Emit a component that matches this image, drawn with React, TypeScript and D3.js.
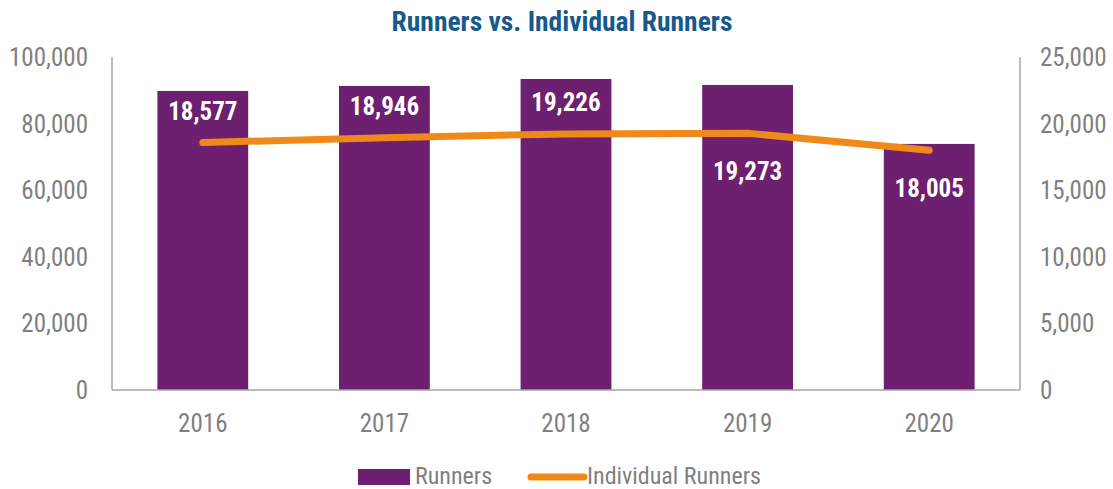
import React from "react";
import * as d3 from "d3";

const years = ["2016", "2017", "2018", "2019", "2020"];
const runners = [89800, 91300, 93400, 91600, 73900];
const individualRunners = [18577, 18946, 19226, 19273, 18005];
const labelPlacement = ["above", "above", "above", "below", "below"];
const leftTicks = [0, 20000, 40000, 60000, 80000, 100000];
const rightTicks = [0, 5000, 10000, 15000, 20000, 25000];

const W = 1113;
const H = 489;
const FONT = "'Liberation Sans Narrow', 'Arial Narrow', 'Roboto Condensed', sans-serif";
const PURPLE = "#6D1F70";
const ORANGE = "#EF8A1A";
const GREY = "#7F7F7F";
const AXIS = "#A6A6A6";

export default function App() {
  const left = 112, right = 1020, top = 57, bottom = 390;
  const x = d3.scaleBand<string>().domain(years).range([left, right]).paddingInner(0.5).paddingOuter(0.25);
  const yL = d3.scaleLinear().domain([0, 100000]).range([bottom, top]);
  const yR = d3.scaleLinear().domain([0, 25000]).range([bottom, top]);
  const fmt = d3.format(",");
  const line = d3
    .line<number>()
    .x((_, i) => (x(years[i]) as number) + x.bandwidth() / 2)
    .y((d) => yR(d));

  return (
    <svg width={W} height={H} style={{ position: "absolute", left: 0, top: 0 }} fontFamily={FONT}>
      <text x={562} y={31} textAnchor="middle" fontSize={27.5} fontWeight="bold" fill="#17598A">
        Runners vs. Individual Runners
      </text>
      {runners.map((v, i) => (
        <rect key={years[i]} x={x(years[i])} y={yL(v)} width={x.bandwidth()} height={bottom - yL(v)} fill={PURPLE} />
      ))}
      <line x1={left} x2={left} y1={top} y2={bottom} stroke={AXIS} strokeWidth={1.5} />
      <line x1={right} x2={right} y1={top} y2={bottom} stroke={AXIS} strokeWidth={1.5} />
      <line x1={left} x2={right} y1={bottom} y2={bottom} stroke={AXIS} strokeWidth={1.5} />
      {leftTicks.map((t) => (
        <text key={"l" + t} x={88} y={yL(t)} dy="0.36em" textAnchor="end" fontSize={25} fill={GREY}>
          {fmt(t)}
        </text>
      ))}
      {rightTicks.map((t) => (
        <text key={"r" + t} x={1040} y={yR(t)} dy="0.36em" textAnchor="start" fontSize={25} fill={GREY}>
          {fmt(t)}
        </text>
      ))}
      {years.map((yr) => (
        <text key={"x" + yr} x={(x(yr) as number) + x.bandwidth() / 2} y={423} dy="0.36em" textAnchor="middle" fontSize={25} fill={GREY}>
          {yr}
        </text>
      ))}
      <path d={line(individualRunners) as string} fill="none" stroke={ORANGE} strokeWidth={7} strokeLinecap="round" strokeLinejoin="round" />
      {individualRunners.map((v, i) => (
        <text
          key={"d" + i}
          x={(x(years[i]) as number) + x.bandwidth() / 2}
          y={yR(v) + (labelPlacement[i] === "above" ? -32 : 38)}
          dy="0.36em"
          textAnchor="middle"
          fontSize={25}
          fontWeight="bold"
          fill="#FFFFFF"
        >
          {fmt(v)}
        </text>
      ))}
      <rect x={358} y={469} width={52} height={16} fill={PURPLE} />
      <text x={415} y={476} dy="0.35em" fontSize={24} fill={GREY}>Runners</text>
      <line x1={531} x2={584} y1={477} y2={477} stroke={ORANGE} strokeWidth={7} strokeLinecap="round" />
      <text x={587} y={476} dy="0.35em" fontSize={24} fill={GREY}>Individual Runners</text>
    </svg>
  );
}
